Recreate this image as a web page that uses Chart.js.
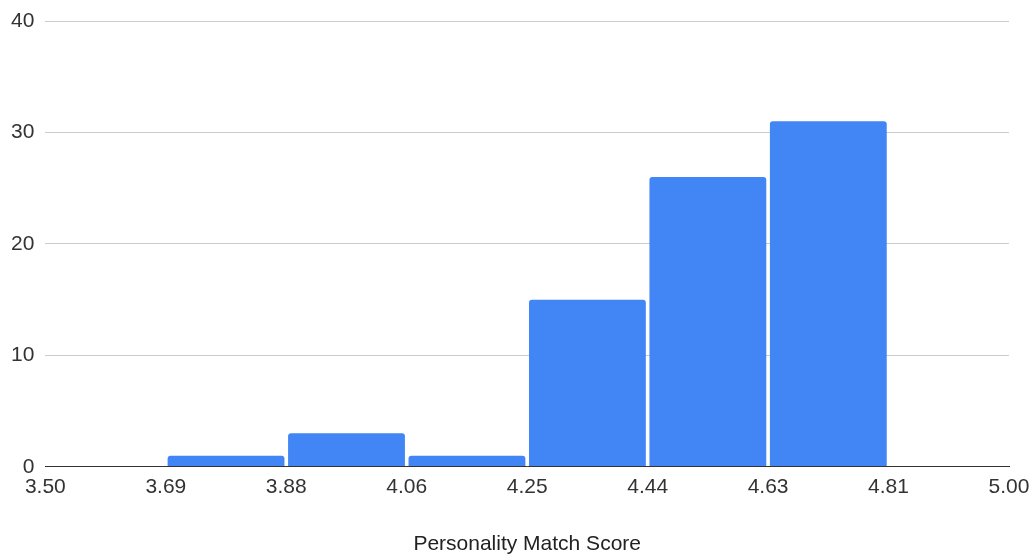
<!DOCTYPE html>
<html>
<head>
<meta charset="utf-8">
<script src="https://cdn.jsdelivr.net/npm/chart.js@4/dist/chart.umd.min.js"></script>
<style>
  html, body { margin: 0; padding: 0; background: #ffffff; }
  #wrap { width: 1036px; height: 555px; }
</style>
</head>
<body>
<div id="wrap"><canvas id="hist"></canvas></div>
<script>
// Histogram bin edges and their axis labels
const binEdges = [3.5, 3.6875, 3.875, 4.0625, 4.25, 4.4375, 4.625, 4.8125, 5.0];
const tickLabels = ['3.50', '3.69', '3.88', '4.06', '4.25', '4.44', '4.63', '4.81', '5.00'];
// Number of respondents in each bin
const counts = [0, 1, 3, 1, 15, 26, 31, 0];
const xTitle = 'Personality Match Score';

// Each bar sits at the middle of its bin
const points = counts.map((c, i) => ({ x: (binEdges[i] + binEdges[i + 1]) / 2, y: c }));

const FONT = '"Liberation Sans", Arial, sans-serif';

new Chart(document.getElementById('hist'), {
  type: 'bar',
  data: {
    datasets: [{
      data: points,
      backgroundColor: '#4285f4',
      borderWidth: 0,
      borderRadius: 3,
      borderSkipped: 'start',
      barPercentage: 0.97,
      categoryPercentage: 1.0
    }]
  },
  options: {
    responsive: true,
    maintainAspectRatio: false,
    animation: false,
    layout: { padding: { top: 21, right: 27, bottom: 0, left: 0 } },
    plugins: { legend: { display: false }, tooltip: { enabled: false } },
    scales: {
      x: {
        type: 'linear',
        min: binEdges[0],
        max: binEdges[binEdges.length - 1],
        offset: false,
        grid: { display: false, drawTicks: false },
        border: { display: true, color: '#333333', width: 1, z: 1 },
        afterBuildTicks: (scale) => { scale.ticks = binEdges.map(v => ({ value: v })); },
        // the outer page margins already leave room for the end labels
        afterFit: (scale) => { scale.paddingLeft = 0; scale.paddingRight = 0; },
        ticks: {
          autoSkip: false,
          maxRotation: 0,
          padding: 8,
          color: '#333333',
          font: { family: FONT, size: 21 },
          callback: (v, i) => tickLabels[i]
        },
        title: {
          display: true,
          text: xTitle,
          color: '#222222',
          font: { family: FONT, size: 21, lineHeight: 1 },
          padding: { top: 26, bottom: 0 }
        }
      },
      y: {
        min: 0,
        max: 40,
        grid: { color: '#cccccc', lineWidth: 1, drawTicks: false },
        border: { display: false },
        afterFit: (scale) => { scale.paddingTop = 0; scale.paddingBottom = 0; },
        ticks: {
          stepSize: 10,
          padding: 11,
          color: '#333333',
          font: { family: FONT, size: 21 }
        }
      }
    }
  }
});
</script>
</body>
</html>
